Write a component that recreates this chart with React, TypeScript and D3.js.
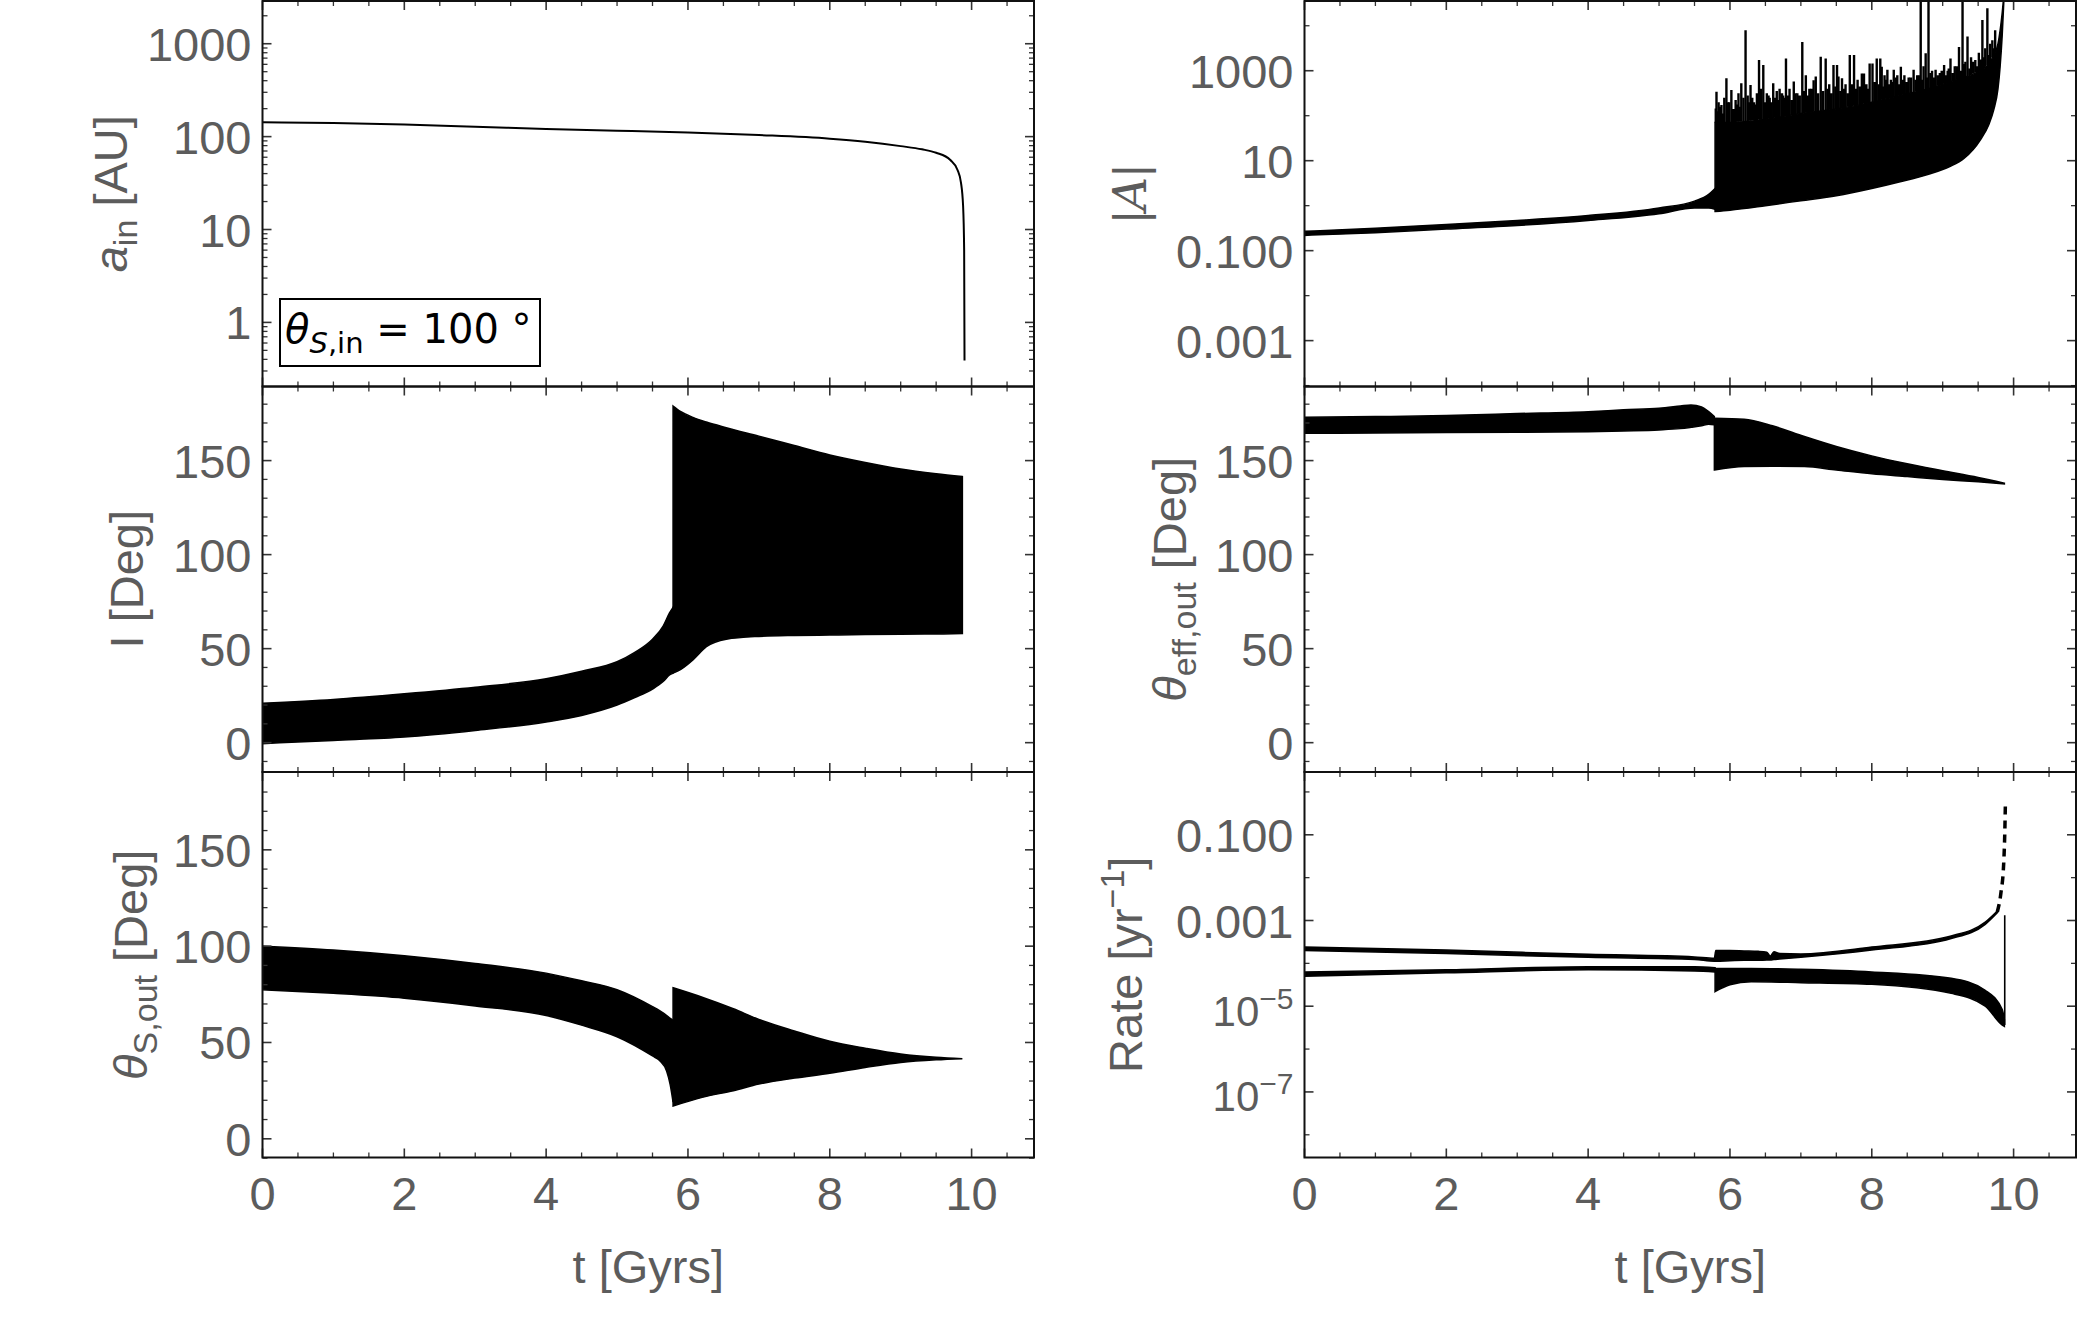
import * as React from 'react';
import * as d3 from 'd3';

const W = 2084;
const H = 1344;
const GRAY = '#5c5c5c';
const FONT = '"Liberation Sans", Arial, sans-serif';

// layout of the 3x2 grid of panels
const COL_X = [262.5, 1304.5];
const ROW_Y = [1, 386.5, 772];
const PW = 771.5;
const PH = 385.5;

// time axis
const T_DOMAIN = [0, 10.88];
const T_MAJOR = [0, 2, 4, 6, 8, 10];
const T_MINOR = [0.5, 1, 1.5, 2.5, 3, 3.5, 4.5, 5, 5.5, 6.5, 7, 7.5, 8.5, 9, 9.5, 10.5];

// a_in [AU]
const aT = [0, 1, 2, 3, 4, 5, 6, 7, 8, 8.5, 9, 9.3, 9.5, 9.7, 9.8, 9.85, 9.88, 9.895, 9.9];
const aVal = [143, 140, 135, 128, 121, 116, 111, 104, 95, 88, 79, 73, 67, 56, 44, 32, 18, 6, 0.39];

// I [Deg] : envelope of the oscillation, before and after the jump
const incPreT = [0, 1, 2, 3, 4, 4.5, 5, 5.25, 5.5, 5.65, 5.74, 5.79];
const incPreHi = [21, 23, 26, 29.5, 34, 38, 43, 48, 55, 62, 69, 72];
const incPreLo = [-0.5, 1.2, 3, 6.5, 11, 14.5, 20, 24, 28.5, 32.5, 36, 37];
const incPostT = [5.79, 5.9, 6.07, 6.26, 6.54, 7, 7.5, 8, 8.5, 9, 9.5, 9.87];
const incPostHi = [179, 176, 173, 170.5, 167.5, 163, 158, 153, 149, 145.5, 143, 141.5];
const incPostLo = [37, 39, 44, 51, 55, 56.5, 57, 57.2, 57.5, 57.7, 57.8, 58];

// theta_S,out [Deg]
const sPreT = [0, 1, 2, 3, 4, 4.5, 5, 5.5, 5.6, 5.7, 5.75, 5.79];
const sPreHi = [100, 98, 95, 91, 86, 82, 77.4, 68.6, 66.5, 64, 62.5, 61.5];
const sPreLo = [77.4, 75.5, 73, 69, 64, 59, 53, 43, 40.6, 35, 28, 19];
const sPostT = [5.79, 6.2, 6.64, 7, 7.5, 8, 8.5, 9, 9.5, 9.87];
const sPostHi = [78.4, 73.5, 67.5, 62, 56, 50.6, 47, 44, 42.3, 41.6];
const sPostLo = [17, 21.5, 25, 28.4, 31.5, 34, 37, 39.6, 41, 41.6];

// theta_eff,out [Deg]
const ePreT = [0, 1, 2, 3, 4, 4.5, 5, 5.3, 5.45, 5.6, 5.7, 5.78];
const ePreHi = [173, 173.4, 174, 175, 176, 177, 177.8, 179, 179.6, 178.5, 176, 173.4];
const ePreLo = [164.5, 164.7, 164.9, 165.1, 165.4, 165.8, 166.3, 167, 167.7, 168.5, 169.3, 169];
const ePostT = [5.78, 6.2, 6.6, 7.05, 7.5, 8, 8.5, 9, 9.5, 9.87];
const ePostHi = [172.5, 172, 168.5, 162.8, 157.5, 152.5, 148.3, 144.6, 141, 138];
const ePostLo = [145, 146.8, 147, 146.8, 145, 143, 141.5, 140, 138.7, 137.6];

// |A| (log10 values)
const amPreT = [0, 1, 2, 3, 4, 5, 5.5, 5.7, 5.79];
const amPreHi = [-0.57, -0.5, -0.42, -0.33, -0.22, -0.05, 0.1, 0.25, 0.38];
const amPreLo = [-0.66, -0.6, -0.52, -0.44, -0.33, -0.18, -0.05, -0.05, -0.08];
const amPostT = [5.79, 6, 6.5, 7, 7.5, 8, 8.4, 8.8, 9.1, 9.3, 9.53, 9.65, 9.72, 9.78, 9.81, 9.84, 9.87];
const amPostHi = [1.85, 1.85, 1.92, 2.05, 2.15, 2.3, 2.45, 2.6, 2.75, 2.85, 3.0, 3.15, 3.35, 3.6, 3.9, 4.3, 4.8];
const amPostLo = [-0.13, -0.1, 0, 0.11, 0.22, 0.38, 0.53, 0.7, 0.87, 1.05, 1.46, 1.8, 2.13, 2.6, 3.09, 3.8, 4.8];
// tall spikes
const spikeT = [5.8, 5.81, 5.84, 5.88, 5.92, 5.95, 5.99, 6.02, 6.08, 6.12, 6.16, 6.19, 6.22, 6.25, 6.29, 6.34,
  6.38, 6.41, 6.44, 6.47, 6.52, 6.56, 6.61, 6.66, 6.7, 6.75, 6.79, 6.84, 6.9, 6.95, 7.02, 7.07, 7.12, 7.18,
  7.21, 7.28, 7.35, 7.4, 7.46, 7.51, 7.53, 7.58, 7.63, 7.69, 7.75, 7.8, 7.86, 7.89, 7.97, 8.01, 8.07, 8.12,
  8.14, 8.18, 8.22, 8.27, 8.31, 8.36, 8.41, 8.46, 8.52, 8.59, 8.64, 8.69, 8.73, 8.76, 8.8, 8.85, 8.9, 8.96,
  9.02, 9.07, 9.11, 9.17, 9.23, 9.28, 9.32, 9.35, 9.4, 9.46, 9.51, 9.56, 9.6, 9.63, 9.67, 9.7, 9.74];
const spikeLog = [2.16, 2.53, 2.3, 2.24, 2.4, 2.83, 2.3, 2.57, 2.35, 2.5, 2.72, 2.4, 3.9, 2.45, 2.68, 2.3,
  2.5, 3.24, 2.6, 3.13, 2.5, 2.4, 2.72, 2.55, 2.6, 2.45, 3.27, 2.6, 2.76, 2.5, 3.64, 2.9, 2.6, 2.79,
  2.87, 3.31, 3.27, 2.7, 3.13, 3.13, 2.87, 2.83, 2.7, 3.35, 3.35, 2.8, 2.94, 2.94, 3.16, 3.16, 3.27, 3.27,
  3.09, 2.9, 3.02, 2.8, 3.02, 2.9, 3.09, 2.9, 2.85, 3.02, 2.9, 5, 3.1, 3.39, 5, 3.0, 3.02, 2.95,
  3.13, 3.0, 3.27, 3.1, 3.53, 5, 3.2, 3.76, 3.3, 3.24, 3.4, 4.13, 3.5, 4.39, 3.6, 3.68, 3.9];
// shorter spikes filling the ragged top of the band
const spike2T = [5.83, 5.86, 5.9, 5.97, 6.05, 6.1, 6.14, 6.27, 6.31, 6.36, 6.43, 6.5, 6.54, 6.58, 6.64,
  6.68, 6.73, 6.77, 6.82, 6.87, 6.92, 6.98, 7.04, 7.1, 7.15, 7.24, 7.31, 7.38, 7.43, 7.49, 7.56, 7.61, 7.66,
  7.72, 7.78, 7.83, 7.92, 7.94, 8.04, 8.1, 8.16, 8.2, 8.25, 8.29, 8.34, 8.39, 8.44, 8.49, 8.55, 8.62, 8.67,
  8.71, 8.78, 8.83, 8.88, 8.93, 8.99, 9.05, 9.09, 9.14, 9.2, 9.26, 9.3, 9.38, 9.43, 9.49, 9.54, 9.58, 9.65, 9.72];
const spike2Log = [2.1, 2.2, 2.05, 2.3, 2.15, 2.25, 2.2, 2.3, 2.4, 2.25, 2.35, 2.3, 2.45, 2.3, 2.4,
  2.35, 2.5, 2.4, 2.45, 2.35, 2.5, 2.45, 2.55, 2.45, 2.6, 2.5, 2.55, 2.6, 2.5, 2.65, 2.55, 2.6, 2.5,
  2.7, 2.6, 2.65, 2.7, 2.6, 2.75, 2.7, 2.65, 2.8, 2.7, 2.75, 2.85, 2.7, 2.8, 2.75, 2.85, 2.8, 2.9,
  2.8, 2.85, 2.95, 2.85, 2.9, 3.0, 2.9, 3.05, 2.95, 3.1, 3.0, 3.15, 3.05, 3.2, 3.1, 3.25, 3.3, 3.35, 3.5];

// Rate [yr^-1] (log10 values)
const rUpT = [0, 2, 4, 5.5, 5.78, 5.8, 6.0, 6.2, 6.4, 6.52, 6.57, 6.62, 6.7, 7, 8, 9.12, 9.6, 9.77];
const rUpHi = [-3.62, -3.69, -3.79, -3.85, -3.88, -3.7, -3.7, -3.71, -3.72, -3.74, -3.83, -3.73, -3.77, -3.78, -3.62, -3.36, -3.04, -2.78];
const rUpLo = [-3.7, -3.77, -3.86, -3.91, -3.95, -3.95, -3.94, -3.93, -3.93, -3.92, -3.92, -3.91, -3.9, -3.86, -3.69, -3.42, -3.09, -2.82];
const rDashT = [9.77, 9.82, 9.86, 9.875, 9.885];
const rDashLog = [-2.8, -2.37, -1.68, -1.0, -0.21];
const rLoPreT = [0, 2, 4, 5.5, 5.79];
const rLoPreHi = [-4.2, -4.15, -4.08, -4.08, -4.1];
const rLoPreLo = [-4.3, -4.22, -4.15, -4.18, -4.2];
const rLoPostT = [5.79, 6.0, 6.3, 7, 8, 9.12, 9.6, 9.84, 9.87];
const rLoPostHi = [-4.12, -4.12, -4.12, -4.14, -4.2, -4.35, -4.63, -5.08, -5.3];
const rLoPostLo = [-4.66, -4.5, -4.43, -4.45, -4.49, -4.7, -5.0, -5.44, -5.47];
const rDropT = 9.875;
const rDropTop = -2.88;
const rDropBottom = -5.44;

type Tick = { v: number; label: React.ReactNode };

const lin = (vals: number[]): Tick[] => vals.map(v => ({ v, label: String(v) }));
const pow10 = (e: number) => (
  <>
    <tspan fontSize={42}>10</tspan>
    <tspan fontSize={30} dy={-17}>{'\u2212' + Math.abs(e)}</tspan>
  </>
);

function logMinors(lo: number, hi: number, everyDecade: boolean) {
  const out: number[] = [];
  for (let e = Math.floor(Math.log10(lo)) - 1; e <= Math.ceil(Math.log10(hi)); e++) {
    if (everyDecade) {
      for (let k = 2; k <= 9; k++) out.push(k * Math.pow(10, e));
    } else {
      out.push(Math.pow(10, e));
    }
  }
  return out.filter(v => v > lo && v < hi);
}

function band(t: number[], hi: number[], lo: number[], xs: any, ys: any, log = false) {
  const f = (v: number) => (log ? Math.pow(10, v) : v);
  const idx = d3.range(t.length);
  const area = d3.area<number>()
    .x(i => xs(t[i]))
    .y0(i => ys(f(lo[i])))
    .y1(i => ys(f(hi[i])))
    .curve(d3.curveMonotoneX);
  return <path d={area(idx) || ''} fill="#000" stroke="#000" strokeWidth={1.5} />;
}

interface PanelProps {
  col: number;
  row: number;
  ys: any;
  yMajor: Tick[];
  yMinor: number[];
  yLabel: React.ReactNode;
  labelX: number;
  children: (xs: any, ys: any) => React.ReactNode;
}

function Panel({ col, row, ys, yMajor, yMinor, yLabel, labelX, children }: PanelProps) {
  const x0 = COL_X[col];
  const y0 = ROW_Y[row];
  const xs = d3.scaleLinear().domain(T_DOMAIN).range([x0, x0 + PW]);
  const yB = y0 + PH;
  const clipId = `clip-${col}-${row}`;
  const tickStroke = '#333';
  return (
    <g>
      <defs>
        <clipPath id={clipId}>
          <rect x={x0} y={y0} width={PW} height={PH} />
        </clipPath>
      </defs>
      <g clipPath={`url(#${clipId})`}>{children(xs, ys)}</g>
      {/* x ticks top and bottom */}
      {T_MAJOR.map(t => (
        <g key={'xm' + t}>
          <line x1={xs(t)} x2={xs(t)} y1={yB} y2={yB - 9} stroke={tickStroke} strokeWidth={1.6} />
          <line x1={xs(t)} x2={xs(t)} y1={y0} y2={y0 + 9} stroke={tickStroke} strokeWidth={1.6} />
        </g>
      ))}
      {T_MINOR.map(t => (
        <g key={'xn' + t}>
          <line x1={xs(t)} x2={xs(t)} y1={yB} y2={yB - 5} stroke={tickStroke} strokeWidth={1.3} />
          <line x1={xs(t)} x2={xs(t)} y1={y0} y2={y0 + 5} stroke={tickStroke} strokeWidth={1.3} />
        </g>
      ))}
      {/* y ticks left and right */}
      {yMajor.map(tk => (
        <g key={'ym' + tk.v}>
          <line x1={x0} x2={x0 + 9} y1={ys(tk.v)} y2={ys(tk.v)} stroke={tickStroke} strokeWidth={1.6} />
          <line x1={x0 + PW} x2={x0 + PW - 9} y1={ys(tk.v)} y2={ys(tk.v)} stroke={tickStroke} strokeWidth={1.6} />
        </g>
      ))}
      {yMinor.map(v => (
        <g key={'yn' + v}>
          <line x1={x0} x2={x0 + 5} y1={ys(v)} y2={ys(v)} stroke={tickStroke} strokeWidth={1.3} />
          <line x1={x0 + PW} x2={x0 + PW - 5} y1={ys(v)} y2={ys(v)} stroke={tickStroke} strokeWidth={1.3} />
        </g>
      ))}
      {yMajor.map(tk => (
        <text
          key={'yl' + tk.v}
          x={x0 - 11}
          y={ys(tk.v) + (typeof tk.label === 'string' ? 17 : 19.5)}
          textAnchor="end"
          fontSize={47}
          fill={GRAY}
        >
          {tk.label}
        </text>
      ))}
      <rect x={x0} y={y0} width={PW} height={PH} fill="none" stroke="#111" strokeWidth={2} />
      <text
        transform={`translate(${labelX},${y0 + PH / 2}) rotate(-90)`}
        textAnchor="middle"
        fontSize={47}
        fill={GRAY}
      >
        {yLabel}
      </text>
      {row === 2 && (
        <g>
          {T_MAJOR.map(t => (
            <text key={'xl' + t} x={xs(t)} y={1210} textAnchor="middle" fontSize={47} fill={GRAY}>
              {t}
            </text>
          ))}
          <text x={x0 + PW / 2} y={1283} textAnchor="middle" fontSize={47} fill={GRAY}>
            t [Gyrs]
          </text>
        </g>
      )}
    </g>
  );
}

export default function App() {
  const yA = d3.scaleLog().domain([Math.pow(10, -0.69), Math.pow(10, 3.46)]).range([ROW_Y[0] + PH, ROW_Y[0]]);
  const yAm = d3.scaleLog().domain([Math.pow(10, -4.02), Math.pow(10, 4.55)]).range([ROW_Y[0] + PH, ROW_Y[0]]);
  const yInc = d3.scaleLinear().domain([-15.6, 189.4]).range([ROW_Y[1] + PH, ROW_Y[1]]);
  const yEff = d3.scaleLinear().domain([-15.6, 189.4]).range([ROW_Y[1] + PH, ROW_Y[1]]);
  const yS = d3.scaleLinear().domain([-9.7, 190.4]).range([ROW_Y[2] + PH, ROW_Y[2]]);
  const yR = d3.scaleLog().domain([Math.pow(10, -8.53), Math.pow(10, 0.465)]).range([ROW_Y[2] + PH, ROW_Y[2]]);

  const degMajor = lin([0, 50, 100, 150]);
  const degMinor = d3.range(-10, 190, 10).filter(v => v % 50 !== 0);

  // upper edge of the solid |A| band, used as foot of the spikes
  const spikeBase = d3.scaleLinear().domain(amPostT).range(amPostHi).clamp(true);

  return (
    <svg
      width={W}
      height={H}
      viewBox={`0 0 ${W} ${H}`}
      style={{ position: 'absolute', left: 0, top: 0, background: '#fff' }}
      fontFamily={FONT}
    >
      <rect width={W} height={H} fill="#fff" />

      {/* a_in */}
      <Panel
        col={0}
        row={0}
        ys={yA}
        yMajor={[1, 10, 100, 1000].map(v => ({ v, label: String(v) }))}
        yMinor={logMinors(yA.domain()[0], yA.domain()[1], true)}
        labelX={127}
        yLabel={
          <>
            <tspan fontStyle="italic">a</tspan>
            <tspan fontSize={34} dy={10}>in</tspan>
            <tspan dy={-10}> [AU]</tspan>
          </>
        }
      >
        {(xs, ys) => {
          const line = d3.line<number>().x(i => xs(aT[i])).y(i => ys(aVal[i])).curve(d3.curveMonotoneX);
          return <path d={line(d3.range(aT.length)) || ''} fill="none" stroke="#000" strokeWidth={2} />;
        }}
      </Panel>

      {/* |A| */}
      <Panel
        col={1}
        row={0}
        ys={yAm}
        yMajor={[
          { v: 1000, label: '1000' },
          { v: 10, label: '10' },
          { v: 0.1, label: '0.100' },
          { v: 0.001, label: '0.001' },
        ]}
        yMinor={[1e-4, 1e-2, 1, 100, 1e4]}
        labelX={1146}
        yLabel={
          <>
            <tspan>|</tspan>
            <tspan fontStyle="italic" fontFamily='"DejaVu Serif", serif'>A</tspan>
            <tspan>|</tspan>
          </>
        }
      >
        {(xs, ys) => (
          <g>
            {band(amPreT, amPreHi, amPreLo, xs, ys, true)}
            {band(amPostT, amPostHi, amPostLo, xs, ys, true)}
            {spike2T.map((t, i) => (
              <line
                key={'s2' + i}
                x1={xs(t)}
                x2={xs(t)}
                y1={ys(Math.pow(10, spikeBase(t)))}
                y2={ys(Math.pow(10, spike2Log[i]))}
                stroke="#000"
                strokeWidth={3}
              />
            ))}
            {spikeT.map((t, i) => (
              <line
                key={i}
                x1={xs(t)}
                x2={xs(t)}
                y1={ys(Math.pow(10, spikeBase(t)))}
                y2={ys(Math.pow(10, spikeLog[i]))}
                stroke="#000"
                strokeWidth={2.4}
              />
            ))}
          </g>
        )}
      </Panel>

      {/* I */}
      <Panel
        col={0}
        row={1}
        ys={yInc}
        yMajor={degMajor}
        yMinor={degMinor}
        labelX={143}
        yLabel={<tspan>I [Deg]</tspan>}
      >
        {(xs, ys) => (
          <g>
            {band(incPreT, incPreHi, incPreLo, xs, ys)}
            {band(incPostT, incPostHi, incPostLo, xs, ys)}
          </g>
        )}
      </Panel>

      {/* theta_eff,out */}
      <Panel
        col={1}
        row={1}
        ys={yEff}
        yMajor={degMajor}
        yMinor={degMinor}
        labelX={1186}
        yLabel={
          <>
            <tspan fontStyle="italic">θ</tspan>
            <tspan fontSize={34} dy={10}>eff,out</tspan>
            <tspan dy={-10}> [Deg]</tspan>
          </>
        }
      >
        {(xs, ys) => (
          <g>
            {band(ePreT, ePreHi, ePreLo, xs, ys)}
            {band(ePostT, ePostHi, ePostLo, xs, ys)}
          </g>
        )}
      </Panel>

      {/* theta_S,out */}
      <Panel
        col={0}
        row={2}
        ys={yS}
        yMajor={degMajor}
        yMinor={degMinor}
        labelX={147}
        yLabel={
          <>
            <tspan fontStyle="italic">θ</tspan>
            <tspan fontSize={34} dy={10}>S,out</tspan>
            <tspan dy={-10}> [Deg]</tspan>
          </>
        }
      >
        {(xs, ys) => (
          <g>
            {band(sPreT, sPreHi, sPreLo, xs, ys)}
            {band(sPostT, sPostHi, sPostLo, xs, ys)}
          </g>
        )}
      </Panel>

      {/* Rate */}
      <Panel
        col={1}
        row={2}
        ys={yR}
        yMajor={[
          { v: 0.1, label: '0.100' },
          { v: 0.001, label: '0.001' },
          { v: 1e-5, label: pow10(-5) },
          { v: 1e-7, label: pow10(-7) },
        ]}
        yMinor={[1, 1e-2, 1e-4, 1e-6, 1e-8]}
        labelX={1142}
        yLabel={
          <>
            <tspan>Rate [yr</tspan>
            <tspan fontSize={34} dy={-18}>{'\u22121'}</tspan>
            <tspan dy={18}>]</tspan>
          </>
        }
      >
        {(xs, ys) => {
          const dash = d3.line<number>()
            .x(i => xs(rDashT[i]))
            .y(i => ys(Math.pow(10, rDashLog[i])))
            .curve(d3.curveMonotoneX);
          return (
            <g>
              {band(rUpT, rUpHi, rUpLo, xs, ys, true)}
              {band(rLoPreT, rLoPreHi, rLoPreLo, xs, ys, true)}
              {band(rLoPostT, rLoPostHi, rLoPostLo, xs, ys, true)}
              <path d={dash(d3.range(rDashT.length)) || ''} fill="none" stroke="#000" strokeWidth={3.5} strokeDasharray="8 6" />
              <line
                x1={xs(rDropT)}
                x2={xs(rDropT)}
                y1={ys(Math.pow(10, rDropTop))}
                y2={ys(Math.pow(10, rDropBottom))}
                stroke="#000"
                strokeWidth={1.6}
              />
            </g>
          );
        }}
      </Panel>

      {/* legend box */}
      <g>
        <rect x={280} y={299} width={260} height={67} fill="#fff" stroke="#000" strokeWidth={2} />
        <text x={285} y={343} fontSize={40} fill="#000" fontFamily='"DejaVu Sans", sans-serif'>
          <tspan fontStyle="italic">θ</tspan>
          <tspan fontSize={29} dy={10} fontStyle="italic">S</tspan>
          <tspan fontSize={29}>,in</tspan>
          <tspan dy={-10}> = 100 °</tspan>
        </text>
      </g>
    </svg>
  );
}
